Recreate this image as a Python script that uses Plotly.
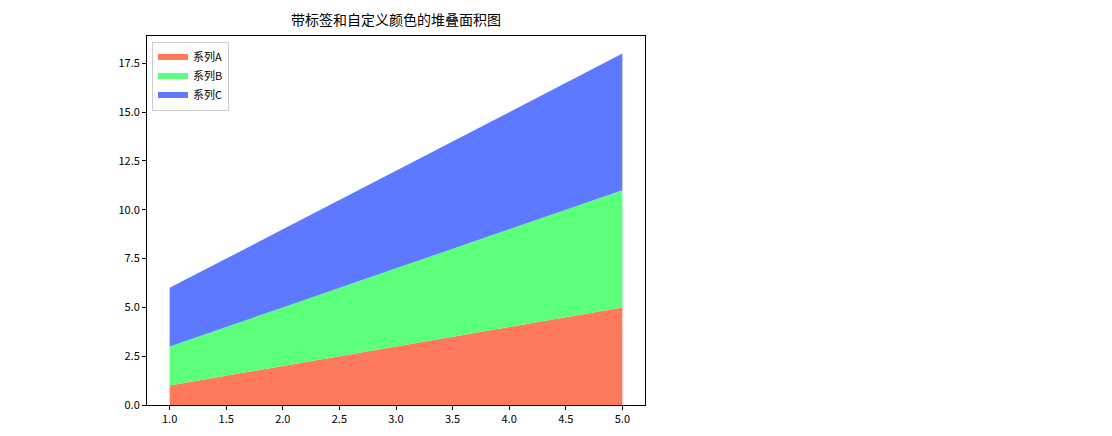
import plotly.graph_objects as go

x = [1, 2, 3, 4, 5]
series_a = [1, 2, 3, 4, 5]
series_b = [2, 3, 4, 5, 6]
series_c = [3, 4, 5, 6, 7]
names = ["系列A", "系列B", "系列C"]
colors = ["#ff7a5c", "#5cff79", "#5c79ff"]

# page is shown with an 8px body margin, so offsets are compensated here
W, H = 1112, 436
L, R, T, B = 139, 475, 28, 39
pw = W - L - R

fig = go.Figure()
for name, ys, c in zip(names, [series_a, series_b, series_c], colors):
    fig.add_trace(go.Scatter(x=x, y=ys, name=name, stackgroup="one", mode="none",
                             fillcolor=c, line=dict(width=0)))

axis = dict(showline=True, linecolor="black", linewidth=1, mirror=True, ticks="outside",
            ticklen=4, tickcolor="black", showgrid=False, zeroline=False,
            tickformat=".1f", tickfont=dict(size=11, color="black"))
fig.update_xaxes(range=[0.8, 5.2], dtick=0.5, **axis)
fig.update_yaxes(range=[0, 18.9], dtick=2.5, **axis)

fig.update_layout(
    width=W, height=H, margin=dict(l=L, r=R, t=T, b=B),
    paper_bgcolor="white", plot_bgcolor="white",
    font=dict(family="Noto Sans CJK SC", color="black"),
    title=dict(text="带标签和自定义颜色的堆叠面积图", x=(L + pw / 2) / W, xanchor="center",
               y=1 - 12 / H, yanchor="middle", font=dict(size=14)),
    legend=dict(x=0.01, y=0.985, xanchor="left", yanchor="top", bgcolor="white",
                bordercolor="#cccccc", borderwidth=1, font=dict(size=11),
                traceorder="normal", tracegroupgap=0),
    shapes=[
        dict(type="line", xref="paper", yref="paper", x0=(1099 - L) / pw, x1=(1099 - L) / pw,
             y0=-1, y1=2, line=dict(color="#cccccc", width=1)),
    ],
)

fig.write_html("out.html")
